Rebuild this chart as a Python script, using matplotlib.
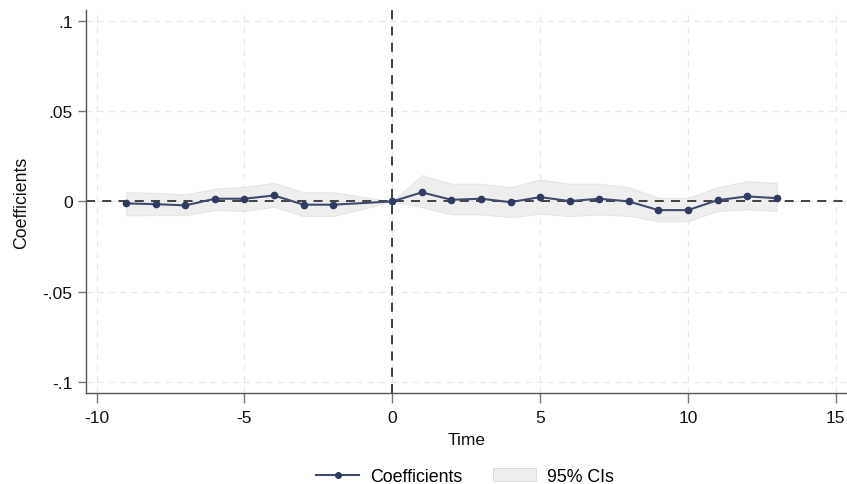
import matplotlib
matplotlib.use("Agg")
import matplotlib.pyplot as plt
from matplotlib.patches import Patch
from matplotlib.lines import Line2D

plt.rcParams['font.family'] = ['Liberation Sans', 'DejaVu Sans']
plt.rcParams['axes.unicode_minus'] = False

time = [-9, -8, -7, -6, -5, -4, -3, -2, 0, 1, 2, 3, 4, 5, 6, 7, 8, 9, 10, 11, 12, 13]
coef = [-0.0011, -0.0015, -0.0022, 0.0015, 0.0015, 0.0033, -0.0018, -0.0018, 0.0,
        0.0050, 0.0009, 0.0015, -0.0004, 0.0024, 0.0002, 0.0015, 0.0000, -0.0048,
        -0.0048, 0.0007, 0.0028, 0.0018]
ci_upper = [0.0051, 0.0048, 0.0039, 0.0070, 0.0081, 0.0103, 0.0051, 0.0051, 0.0,
            0.0145, 0.0098, 0.0098, 0.0079, 0.0121, 0.0098, 0.0098, 0.0079, 0.0020,
            0.0020, 0.0079, 0.0112, 0.0103]
ci_lower = [-0.0077, -0.0076, -0.0076, -0.0048, -0.0053, -0.0029, -0.0081, -0.0081, 0.0,
            -0.0031, -0.0072, -0.0072, -0.0087, -0.0068, -0.0081, -0.0072, -0.0080, -0.0109,
            -0.0109, -0.0053, -0.0044, -0.0053]

x_ticks = [-10, -5, 0, 5, 10, 15]
y_ticks = [-0.1, -0.05, 0, 0.05, 0.1]
y_tick_labels = ['-.1', '-.05', '0', '.05', '.1']

fig = plt.figure(figsize=(8.47, 4.85), dpi=100)
ax = fig.add_axes([0.1012, 0.1876, 0.8988, 0.79])

line_color = '#404b6e'
band_color = '#eeeeee'

ax.fill_between(time, ci_lower, ci_upper, color=band_color, edgecolor='#e2e2e2',
                linewidth=0.6, zorder=1)
ax.axhline(0, color='#333333', linestyle=(0, (5, 4)), linewidth=1.3, zorder=2)
ax.axvline(0, color='#333333', linestyle=(0, (5, 4)), linewidth=1.3, zorder=2)
ax.plot(time, coef, color=line_color, linewidth=1.5, marker='o', markersize=4.5,
        markerfacecolor='#2f3b60', markeredgecolor='#2f3b60', zorder=3)

ax.set_xlim(-10.37, 15.38)
ax.set_ylim(-0.106, 0.106)
ax.set_xticks(x_ticks)
ax.set_yticks(y_ticks)
ax.set_yticklabels(y_tick_labels)
ax.grid(True, color='#e8e8e8', linestyle=(0, (5, 4)), linewidth=0.9, zorder=0)
ax.set_axisbelow(True)

for s in ['top', 'right']:
    ax.spines[s].set_visible(False)
for s in ['left', 'bottom']:
    ax.spines[s].set_color('#555555')
    ax.spines[s].set_linewidth(1.0)
ax.tick_params(axis='both', colors='#777777', labelcolor='#111111', labelsize=12.5,
               width=1.0, direction='out')
ax.tick_params(axis='x', length=7, pad=5)
ax.tick_params(axis='y', length=6, pad=3.5)

ax.set_xlabel('Time', fontsize=12.5, color='#111111', labelpad=5)
ax.set_ylabel('Coefficients', fontsize=12.8, color='#111111', labelpad=9)

handles = [Line2D([0], [0], color=line_color, linewidth=1.5, marker='o', markersize=4,
                  markerfacecolor='#2f3b60', markeredgecolor='#2f3b60'),
           Patch(facecolor=band_color, edgecolor='#d9d9d9', linewidth=0.6)]
fig.legend(handles, ['Coefficients', '95% CIs'], loc='center', bbox_to_anchor=(0.549, 0.016),
           ncol=2, frameon=False, fontsize=12.8, handlelength=2.4, columnspacing=1.75,
           handletextpad=0.62)

fig.savefig('out.png', dpi=100)
